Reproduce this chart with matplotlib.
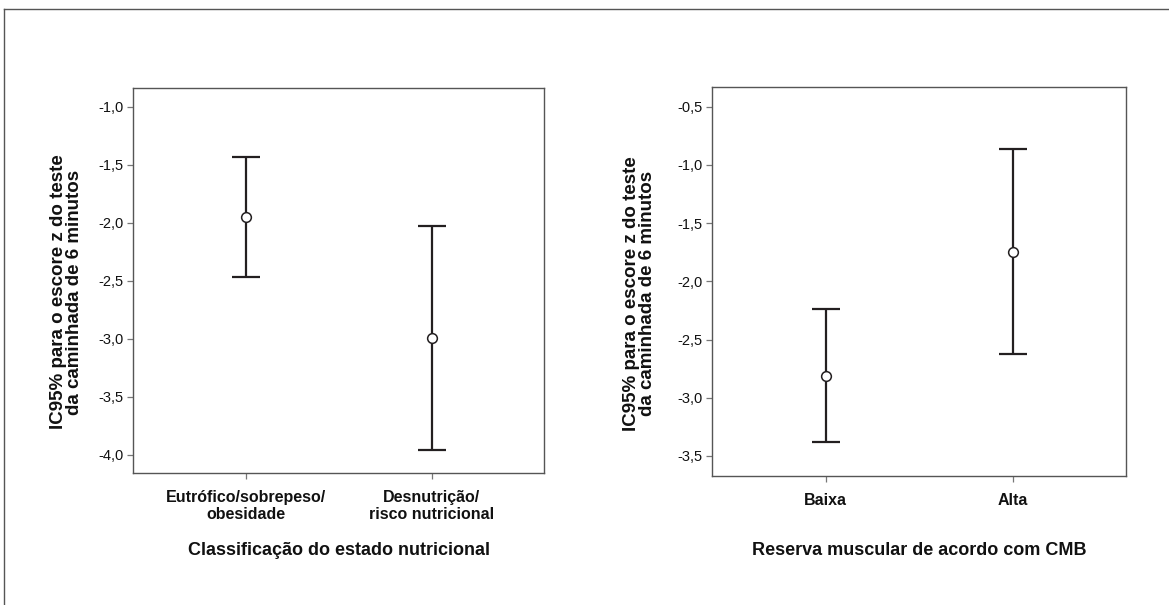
import matplotlib
matplotlib.use("Agg")
import matplotlib.pyplot as plt
from matplotlib.ticker import FuncFormatter, MultipleLocator
from matplotlib.lines import Line2D

plt.rcParams["font.family"] = ["Liberation Sans", "DejaVu Sans"]

# left panel: nutritional status
nutri_labels = ["Eutrófico/sobrepeso/\nobesidade", "Desnutrição/\nrisco nutricional"]
nutri_mean = [-1.95, -2.995]
nutri_low = [-2.464, -3.957]
nutri_high = [-1.436, -2.028]

# right panel: muscle reserve (CMB)
cmb_labels = ["Baixa", "Alta"]
cmb_mean = [-2.81, -1.75]
cmb_low = [-3.378, -2.625]
cmb_high = [-2.235, -0.863]

ylabel = "IC95% para o escore z do teste\nda caminhada de 6 minutos"

INK = "#231f20"
SPINE = "#555555"

fig = plt.figure(figsize=(11.69, 6.05), dpi=100)
fig.patch.set_facecolor("white")

# figure frame (top and left only)
fig.add_artist(Line2D([0.0035, 0.0035], [0, 1 - 9 / 605], transform=fig.transFigure,
                      color=SPINE, lw=1.0))
fig.add_artist(Line2D([0.0035, 1], [1 - 9 / 605, 1 - 9 / 605], transform=fig.transFigure,
                      color=SPINE, lw=1.0))

comma = FuncFormatter(lambda v, p: f"{v:.1f}".replace(".", ","))


def panel(rect, labels, mean, low, high, ylim, xlabel, ylab_x, xlab_y):
    ax = fig.add_axes(rect)
    x = list(range(len(labels)))
    lo_err = [m - l for m, l in zip(mean, low)]
    hi_err = [h - m for m, h in zip(mean, high)]
    ax.errorbar(x, mean, yerr=[lo_err, hi_err], fmt="none", ecolor=INK,
                elinewidth=1.6, capsize=10, capthick=1.6, zorder=2)
    ax.plot(x, mean, "o", markersize=7, markerfacecolor="white",
            markeredgecolor=INK, markeredgewidth=1.1, zorder=3)
    ax.set_xlim(-0.605, 1.605)
    ax.set_ylim(*ylim)
    ax.yaxis.set_major_locator(MultipleLocator(0.5))
    ax.yaxis.set_major_formatter(comma)
    ax.set_xticks(x)
    ax.set_xticklabels(labels, fontsize=11.5, fontweight="bold", linespacing=1.18)
    ax.tick_params(axis="both", direction="out", length=4, width=0.9,
                   color="#777777", labelcolor="#111111")
    ax.tick_params(axis="y", labelsize=10.5, pad=3)
    ax.tick_params(axis="x", pad=8)
    for sp in ax.spines.values():
        sp.set_edgecolor(SPINE)
        sp.set_linewidth(1.0)
    ax.set_ylabel(ylabel, fontsize=13.5, fontweight="bold",
                  linespacing=0.92, color="#111111")
    ax.yaxis.set_label_coords(ylab_x, 0.47)
    ax.set_xlabel(xlabel, fontsize=13, fontweight="bold", color="#111111")
    ax.xaxis.set_label_coords(0.5, xlab_y)
    return ax


panel([0.1138, 0.2182, 0.3516, 0.6364], nutri_labels, nutri_mean, nutri_low,
      nutri_high, (-4.155, -0.839), "Classificação do estado nutricional",
      -0.121, -0.18)
panel([0.6093, 0.2132, 0.3539, 0.6425], cmb_labels, cmb_mean, cmb_low,
      cmb_high, (-3.672, -0.333), "Reserva muscular de acordo com CMB",
      -0.135, -0.17)

fig.savefig("out.png", dpi=100)
